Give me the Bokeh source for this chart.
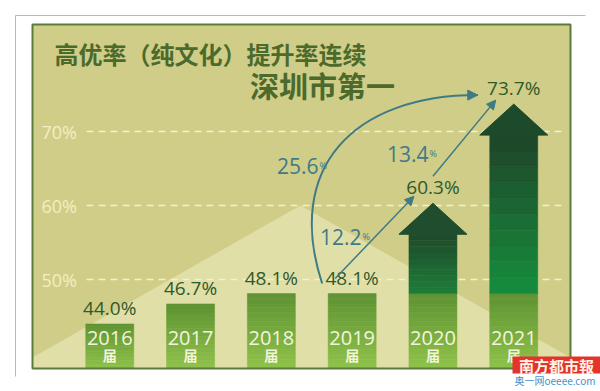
import numpy as np
from bokeh.plotting import figure
from bokeh.models import Range1d, Arrow, NormalHead
from bokeh.core.properties import value
from bokeh.embed import file_html
from bokeh.resources import INLINE

# ---------------- data ----------------
years = ["2016", "2017", "2018", "2019", "2020", "2021"]
rates = [44.0, 46.7, 48.1, 48.1, 60.3, 73.7]
rate_labels = ["44.0%", "46.7%", "48.1%", "48.1%", "60.3%", "73.7%"]
gain_2019_2020 = "12.2"
gain_2020_2021 = "13.4"
gain_2019_2021 = "25.6"
y_ticks = [50, 60, 70]
y_tick_labels = ["50%", "60%", "70%"]
title_line1 = "高优率（纯文化）提升率连续"
title_line2 = "深圳市第一"
grade_char = "届"

# ---------------- geometry helpers (picture pixels -> data) ----------------
W, H = 600, 391
X0PX, XSTEP = 109.25, 80.8     # px centre of first bar, px per category
Y50PX, YSTEP = 279.0, 7.4      # px of 50 %, px per percentage point


def X(px):
    return (px - X0PX) / XSTEP


def Y(py):
    return 50 + (Y50PX - py) / YSTEP


def dx(px):
    return px / XSTEP


def dy(px):
    return px / YSTEP


def hexc(c):
    return "#%02x%02x%02x" % tuple(int(round(v)) for v in c)


def grad(c_top, c_bot, n):
    a, b = np.array(c_top, float), np.array(c_bot, float)
    return [hexc(a + (b - a) * k / (n - 1)) for k in range(n)]


p = figure(width=W, height=H,
           x_range=Range1d(X(0), X(W)), y_range=Range1d(Y(H), Y(0)),
           output_backend="svg", toolbar_location=None,
           x_axis_location=None, y_axis_location=None,
           min_border=0, outline_line_color=None,
           background_fill_color="white", border_fill_color="white")
p.grid.visible = False

FONT_NUM = value("Open Sans")
FONT_CJK = value("Noto Sans CJK SC")

# outer thin grey frame lines
p.line([X(15), X(15), X(585)], [Y(376), Y(15), Y(15)], line_color="#b8b8b8", line_width=1)

# panel
PL, PR, PT, PB = X(32), X(570), Y(24), Y(368)
p.quad(left=PL, right=PR, top=PT, bottom=PB, fill_color="#cfcd88", line_color=None)
# light triangle (decorative mountain)
p.patch([X(32), X(32), X(300), X(570), X(570)],
        [Y(368), Y(357), Y(205), Y(357), Y(368)],
        fill_color="#e1dfa8", line_color=None)

# dashed reference lines + labels
p.segment(x0=X(86), x1=X(562), y0=y_ticks, y1=y_ticks,
          line_color="#f4f1c8", line_width=1.5, line_dash="7 5")
p.text(x=X(41), y=y_ticks, text=y_tick_labels, text_align="left", text_baseline="middle",
       text_font=FONT_NUM, text_font_size="18px", text_color="#f3efc2")

# ---------------- bars ----------------
xs = np.arange(len(years))
BW = dx(48)
HEAD_W = dx(68)
HEAD_H = dy(31)
NS = 16
light_top, light_bot = (96, 148, 52), (142, 193, 74)
base_level = rates[3]   # arrows rise from the 2019 level

for i, (xc, r) in enumerate(zip(xs, rates)):
    if i < 4:
        top = r
        edges = np.linspace(PB, top, NS + 1)
        cols = grad(light_top, light_bot, NS)[::-1]
        p.quad(left=xc - BW / 2, right=xc + BW / 2, bottom=edges[:-1], top=edges[1:],
               fill_color=cols, line_color=cols, line_width=0.5)
    else:
        edges = np.linspace(PB, base_level, NS + 1)
        cols = grad(light_top, light_bot, NS)[::-1]
        p.quad(left=xc - BW / 2, right=xc + BW / 2, bottom=edges[:-1], top=edges[1:],
               fill_color=cols, line_color=cols, line_width=0.5)
        shaft_top = r - HEAD_H
        n2 = 10
        e2 = np.linspace(base_level, shaft_top, n2 + 1)
        if i == 4:
            c2 = grad((31, 76, 44), (30, 122, 56), n2)[::-1]
            head_col = "#1f4d2d"
        else:
            c2 = grad((30, 72, 42), (22, 138, 60), n2)[::-1]
            head_col = "#1e4a2c"
        p.quad(left=xc - BW / 2, right=xc + BW / 2, bottom=e2[:-1], top=e2[1:],
               fill_color=c2, line_color=c2, line_width=0.5)
        p.patch([xc - HEAD_W / 2, xc, xc + HEAD_W / 2], [shaft_top, r, shaft_top],
                fill_color=head_col, line_color=head_col)

# year labels inside the bars
p.text(x=xs, y=[Y(337)] * len(xs), text=years, text_align="center", text_baseline="middle",
       text_font=FONT_NUM, text_font_size="20px", text_color="#f1f5dc")
p.text(x=xs, y=[Y(354)] * len(xs), text=[grade_char] * len(xs), text_align="center",
       text_baseline="middle", text_font=FONT_CJK, text_font_size="14px",
       text_font_style="bold", text_color="#f1f5dc")

# value labels above bars
p.text(x=xs, y=[r + dy(3) for r in rates], text=rate_labels, text_align="center",
       text_baseline="bottom", text_font=FONT_NUM, text_font_size="19px", text_color="#2f5a2a")

# ---------------- growth arrows ----------------
AC = "#3f7a87"
# big arc 2019 -> 2021
sx, sy = xs[3] - dx(30), rates[3] + dy(10)
ex, ey = xs[5] - dx(36), rates[5] + dy(9)
p.bezier(x0=[sx], y0=[sy], x1=[ex], y1=[ey],
         cx0=[X(284)], cy0=[Y(168)], cx1=[X(352)], cy1=[ey],
         line_color=AC, line_width=2)
p.add_layout(Arrow(end=NormalHead(size=10, fill_color=AC, line_color=AC),
                   x_start=ex - dx(6), y_start=ey, x_end=ex, y_end=ey,
                   line_color=AC, line_width=2))
# 2019 -> 2020
p.add_layout(Arrow(end=NormalHead(size=9, fill_color=AC, line_color=AC),
                   x_start=xs[3] - dx(17), y_start=rates[3] + dy(15),
                   x_end=xs[4] - dx(19), y_end=rates[4] + dy(7),
                   line_color=AC, line_width=1.5))
# 2020 -> 2021
p.add_layout(Arrow(end=NormalHead(size=9, fill_color=AC, line_color=AC),
                   x_start=xs[4], y_start=rates[4] + dy(27),
                   x_end=xs[5] - dx(18), y_end=rates[5] + dy(4),
                   line_color=AC, line_width=1.5))

gain_txt = [gain_2019_2021, gain_2019_2020, gain_2020_2021]
gain_x = [X(318), X(361), X(428)]
gain_y = [Y(165), Y(236), Y(153)]
p.text(x=gain_x, y=gain_y, text=gain_txt, text_align="right", text_baseline="middle",
       text_font=FONT_NUM, text_font_size="21px", text_color=AC)
p.text(x=[g + dx(1) for g in gain_x], y=gain_y, text=["%"] * 3, text_align="left",
       text_baseline="middle", text_font=FONT_NUM, text_font_size="9px", text_color=AC)

# ---------------- titles ----------------
p.text(x=[X(54)], y=[Y(53)], text=[title_line1], text_align="left", text_baseline="middle",
       text_font=FONT_CJK, text_font_size="24px", text_font_style="bold", text_color="#4b6a2c")
p.text(x=[X(322)], y=[Y(84)], text=[title_line2], text_align="center", text_baseline="middle",
       text_font=FONT_CJK, text_font_size="29px", text_font_style="bold", text_color="#4b6a2c")

# panel border on top
p.quad(left=PL, right=PR, top=PT, bottom=PB, fill_color=None, line_color="#577c3c", line_width=2)

# newspaper logo
p.quad(left=X(512), right=X(600), top=Y(356), bottom=Y(373), fill_color="#e2342c", line_color=None)
p.text(x=[X(556)], y=[Y(364.5)], text=["南方都市報"], text_align="center", text_baseline="middle",
       text_font=FONT_CJK, text_font_size="15px", text_font_style="bold", text_color="#fff3e6")
p.text(x=[X(514)], y=[Y(380)], text=["奥一网oeeee.com"], text_align="left", text_baseline="middle",
       text_font=FONT_CJK, text_font_size="10px", text_color="#4a8fc8")

open("out.html", "w").write(file_html(p, INLINE))
